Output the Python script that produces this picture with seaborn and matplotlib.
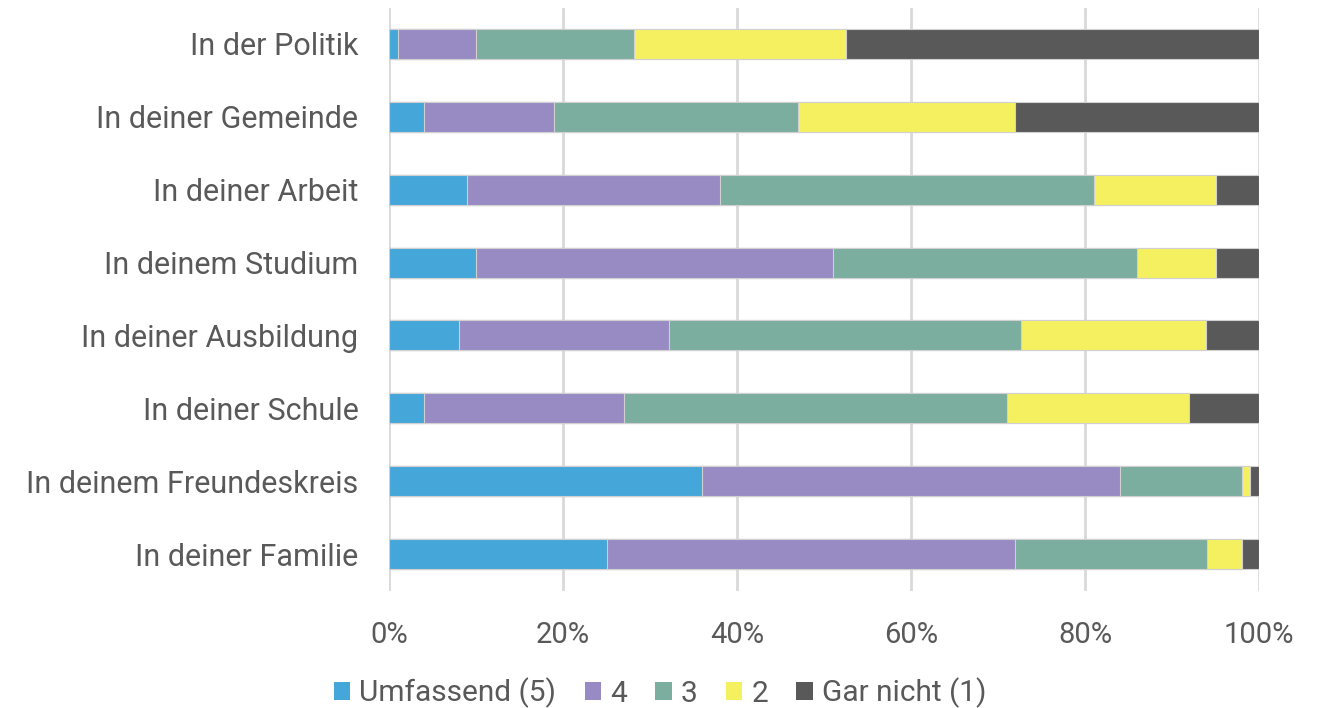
import matplotlib
matplotlib.use('Agg')
import matplotlib.pyplot as plt
import matplotlib.ticker as ticker
from matplotlib.patches import Patch
import numpy as np
import pandas as pd
import seaborn as sns

categories = ['In der Politik', 'In deiner Gemeinde', 'In deiner Arbeit', 'In deinem Studium',
              'In deiner Ausbildung', 'In deiner Schule', 'In deinem Freundeskreis', 'In deiner Familie']
umfassend = [1, 4, 9, 10, 8, 4, 36, 25]
vier = [9, 15, 29, 41, 24.2, 23, 48, 47]
drei = [18.2, 28, 43, 35, 40.4, 44, 14, 22]
zwei = [24.3, 25, 14, 9, 21.3, 21, 1, 4]
gar_nicht = [47.5, 28, 5, 5, 6.1, 8, 1, 2]

series = ['Umfassend (5)', '4', '3', '2', 'Gar nicht (1)']
colors = ['#44A6D9', '#988BC4', '#7BAE9F', '#F5F060', '#595959']

df = pd.DataFrame({'cat': categories, 'Umfassend (5)': umfassend, '4': vier, '3': drei,
                   '2': zwei, 'Gar nicht (1)': gar_nicht})
totals = df[series].sum(axis=1)
for s in series:
    df[s] = df[s] / totals * 100

sns.set_style('white')
plt.rcParams['font.family'] = ['Roboto', 'DejaVu Sans']

fig = plt.figure(figsize=(13.2, 7.08), dpi=100)
ax = fig.add_axes([389 / 1320, 1 - 590.5 / 708, 870 / 1320, 583 / 708])

# draw cumulative bars from the back (total) to the front
cum = df[series].cumsum(axis=1)
for s, c in reversed(list(zip(series, colors))):
    sns.barplot(x=cum[s], y=df['cat'], orient='h', color=c, ax=ax, width=0.41,
                saturation=1, edgecolor='#D0D0D0', linewidth=0.8, zorder=3)

ax.set_xlim(0, 100)
ax.set_ylim(7.5, -0.5)
ax.set_xticks(np.arange(0, 101, 20))
ax.xaxis.set_major_formatter(ticker.FuncFormatter(lambda v, p: '{:.0f}%'.format(v)))
ax.grid(axis='x', color='#D9D9D9', linewidth=2, zorder=0)
ax.set_axisbelow(True)
ax.set_xlabel('')
ax.set_ylabel('')
for sp in ax.spines.values():
    sp.set_visible(False)
ax.tick_params(axis='y', length=0, labelsize=22, labelcolor='#595959', pad=22)
ax.tick_params(axis='x', length=0, labelsize=21, labelcolor='#595959', pad=22)

handles = [Patch(facecolor=c, edgecolor='none') for c in colors]
fig.legend(handles, series, loc='center', bbox_to_anchor=(0.5, 1 - 693 / 708), ncol=5,
           frameon=False, fontsize=21.5, handlelength=0.55, handleheight=0.55,
           handletextpad=0.3, columnspacing=0.95, labelcolor='#595959')

plt.savefig('out.png', dpi=100)
plt.close('all')
